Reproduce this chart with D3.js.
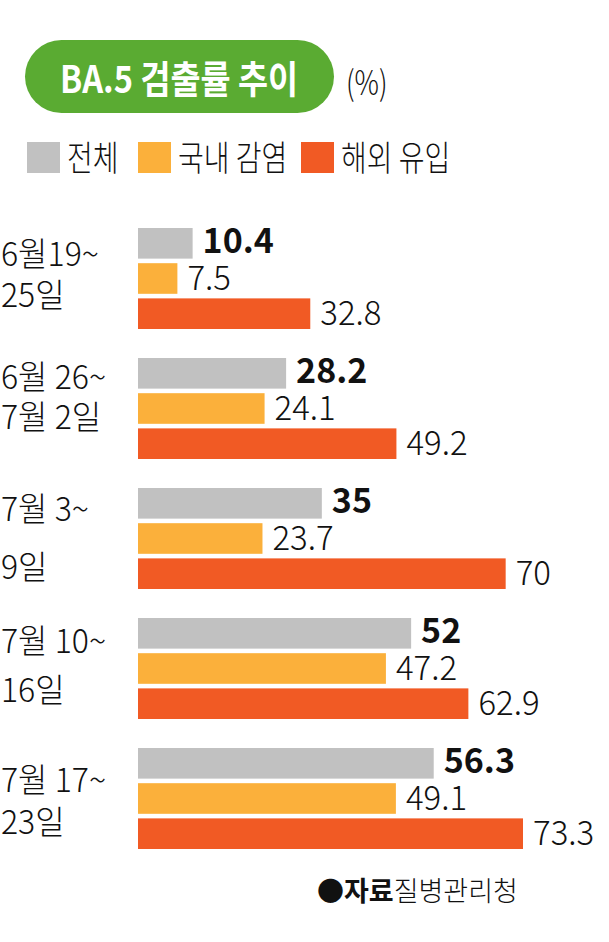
<!DOCTYPE html>
<html>
<head>
<meta charset="utf-8">
<title>BA.5 검출률 추이</title>
<script src="https://cdnjs.cloudflare.com/ajax/libs/d3/7.8.5/d3.min.js"></script>
<style>
  body { margin: 0; background: #fff; }
  svg text { font-family: "Noto Sans CJK KR", "Noto Sans", sans-serif; }
</style>
</head>
<body>
<svg id="chart" width="609" height="942"></svg>
<script>
// data
var periods = [
  ['6월19~', '25일'],
  ['6월 26~', '7월 2일'],
  ['7월 3~', '9일'],
  ['7월 10~', '16일'],
  ['7월 17~', '23일']
];
var seriesNames = ['전체', '국내 감염', '해외 유입'];
var total    = [10.4, 28.2, 35, 52, 56.3];
var domestic = [7.5, 24.1, 23.7, 47.2, 49.1];
var imported = [32.8, 49.2, 70, 62.9, 73.3];

var colors = ['#c1c1c1', '#fbb03b', '#f15a24'];

// baselines of the two label lines, from the top of each group
var line1 = [38, 31, 33, 35, 44];
var line2 = [79, 71, 91, 84, 86];

var svg = d3.select('#chart');
svg.append('rect').attr('width', 609).attr('height', 942).attr('fill', '#fff');

// text helper, sx narrows or widens the glyphs
function label(g, x, y, str, size, weight, sx, anchor) {
  return g.append('text')
    .attr('transform', 'translate(' + x + ',' + y + ') scale(' + sx + ',1)')
    .attr('font-size', size)
    .attr('font-weight', weight)
    .attr('fill', '#111')
    .attr('text-anchor', anchor || 'start')
    .text(str);
}

// title pill
svg.append('rect')
  .attr('x', 25).attr('y', 40).attr('width', 309).attr('height', 73)
  .attr('rx', 36.5).attr('fill', '#5aab32');
label(svg, 179, 93, 'BA.5 검출률 추이', 38, 700, 0.86, 'middle').attr('fill', '#fff');
label(svg, 346, 95, '(%)', 34, 300, 0.8);

// legend
var legendX = [27, 138, 301];
seriesNames.forEach(function(name, i) {
  svg.append('rect')
    .attr('x', legendX[i]).attr('y', 142).attr('width', 33).attr('height', 31)
    .attr('fill', colors[i]);
  label(svg, legendX[i] + 40, 171, name, 35, 300, 0.8);
});

// scales
var series = [total, domestic, imported];
var x = d3.scaleLinear().domain([0, 73.3]).range([138, 523]);
var y = d3.scaleBand().domain(d3.range(periods.length)).range([228, 878]);
var inner = d3.scaleBand().domain(d3.range(3)).range([0, 101]).paddingInner(0.13);

var groups = svg.selectAll('g.period')
  .data(periods)
  .join('g')
  .attr('class', 'period')
  .attr('transform', function(d, i) { return 'translate(0,' + y(i) + ')'; });

groups.each(function(p, i) {
  var g = d3.select(this);
  label(g, 1, line1[i], p[0], 33, 300, 0.97);
  label(g, 1, line2[i], p[1], 33, 300, 0.97);

  series.forEach(function(s, k) {
    g.append('rect')
      .attr('x', x(0))
      .attr('y', inner(k))
      .attr('width', x(s[i]) - x(0))
      .attr('height', inner.bandwidth())
      .attr('fill', colors[k]);
    if (k === 0) {
      label(g, x(s[i]) + 10, inner(k) + 25, String(s[i]), 34, 700, 1);
    } else {
      label(g, x(s[i]) + 10, inner(k) + inner.bandwidth() - 4, String(s[i]), 34, 300, 0.97);
    }
  });
});

// source
var src = svg.append('text')
  .attr('transform', 'translate(317,901)')
  .attr('font-size', 27).attr('fill', '#111').attr('font-weight', 300);
src.append('tspan').text('●');
src.append('tspan').attr('font-weight', 700).text('자료');
src.append('tspan').text('질병관리청');
</script>
</body>
</html>
